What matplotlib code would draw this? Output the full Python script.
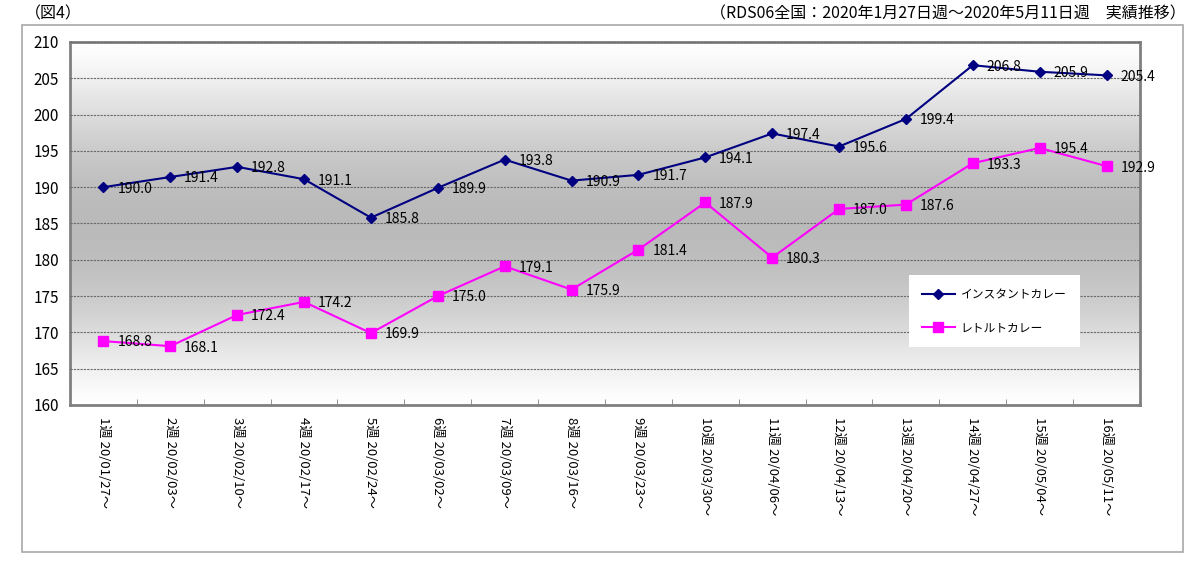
import matplotlib.pyplot as plt
import numpy as np
from matplotlib.patches import Rectangle

plt.rcParams['font.family'] = ['Noto Sans CJK JP', 'DejaVu Sans']

weeks = ['1週', '2週', '3週', '4週', '5週', '6週', '7週', '8週',
         '9週', '10週', '11週', '12週', '13週', '14週', '15週', '16週']
dates = ['20/01/27～', '20/02/03～', '20/02/10～', '20/02/17～',
         '20/02/24～', '20/03/02～', '20/03/09～', '20/03/16～',
         '20/03/23～', '20/03/30～', '20/04/06～', '20/04/13～',
         '20/04/20～', '20/04/27～', '20/05/04～', '20/05/11～']
instant = [190.0, 191.4, 192.8, 191.1, 185.8, 189.9, 193.8, 190.9,
           191.7, 194.1, 197.4, 195.6, 199.4, 206.8, 205.9, 205.4]
retort = [168.8, 168.1, 172.4, 174.2, 169.9, 175.0, 179.1, 175.9,
          181.4, 187.9, 180.3, 187.0, 187.6, 193.3, 195.4, 192.9]

fig = plt.figure(figsize=(12, 5.62), dpi=100)
ax = fig.add_axes([0.0583, 0.2794, 0.8917, 0.6459])

# outer frame of the chart area
fig.patches.append(Rectangle((0.0183, 0.0178), 0.9675, 0.9377,
                             transform=fig.transFigure, fill=False,
                             edgecolor='#a8a8a8', linewidth=1.2))

# vertical gradient background: light at top/bottom, gray in middle
t = np.linspace(0, 1, 256)
shade = 1.0 - 0.27 * np.sin(np.pi * t) ** 1.3
grad = np.dstack([shade, shade, shade])[0][:, None, :]
ax.imshow(grad, extent=[0.5, 16.5, 160, 210], aspect='auto', zorder=0,
          interpolation='bilinear')

x = np.arange(1, len(weeks) + 1)
ax.plot(x, instant, color='#000080', marker='D', markersize=5.5,
        linewidth=1.5, label='インスタントカレー', zorder=3)
ax.plot(x, retort, color='#ff00ff', marker='s', markersize=7,
        linewidth=1.5, label='レトルトカレー', zorder=3)

for xi, v in zip(x, instant):
    ax.annotate(f'{v:.1f}', (xi, v), xytext=(10, -1), textcoords='offset points',
                ha='left', va='center', fontsize=10, zorder=4)
for xi, v in zip(x, retort):
    ax.annotate(f'{v:.1f}', (xi, v), xytext=(10, -1), textcoords='offset points',
                ha='left', va='center', fontsize=10, zorder=4)

ax.set_xlim(0.5, 16.5)
ax.set_ylim(160, 210)
ax.set_yticks(np.arange(160, 211, 5))
ax.yaxis.grid(True, color='#6a6a6a', linestyle=(0, (2, 1)), linewidth=0.8)
ax.set_axisbelow(False)
ax.tick_params(axis='y', length=0, labelsize=11, pad=8)

ax.set_xticks(x)
ax.set_xticklabels([f'{w} {d}' for w, d in zip(weeks, dates)],
                   rotation=270, ha='center', va='top', fontsize=9.5)
ax.set_xticks(np.arange(1.5, 16.5, 1), minor=True)
ax.tick_params(axis='x', which='major', length=0, pad=9)
ax.tick_params(axis='x', which='minor', direction='in', length=4,
               color='#808080')

for s in ax.spines.values():
    s.set_color('#808080')
    s.set_linewidth(2)

leg = ax.legend(loc='upper left', bbox_to_anchor=(0.784, 0.358),
                frameon=True, fancybox=False, edgecolor='none',
                framealpha=1, fontsize=8.5, labelspacing=1.7,
                handlelength=2.8, handletextpad=0.5,
                borderpad=1.1, borderaxespad=0)
leg.get_frame().set_linewidth(0)

fig.text(0.021, 0.975, '（図4）', fontsize=11.5, ha='left', va='center')
fig.text(0.988, 0.975,
         '（RDS06全国：2020年1月27日週～2020年5月11日週　実績推移）',
         fontsize=11.5, ha='right', va='center')

fig.savefig('out.png', dpi=100)
